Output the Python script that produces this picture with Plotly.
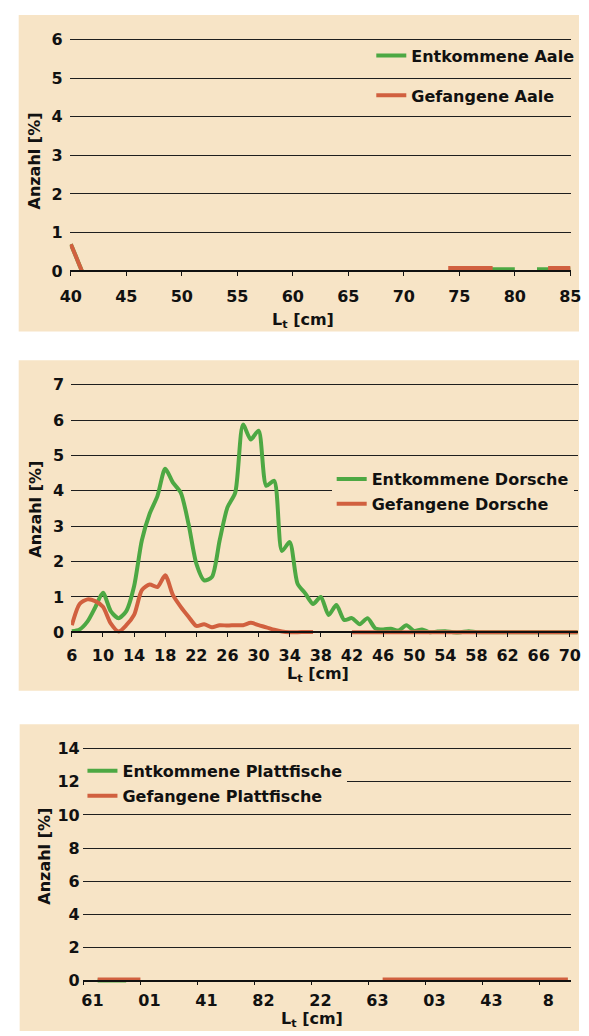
import plotly.graph_objects as go

# ---------------- data ----------------
aale_x = list(range(40, 86))
aale_entkommen = [0.7, 0.0] + [None] * 34 + [0.05] * 5 + [None] + [0.05] * 4
aale_gefangen = [0.7, 0.0] + [None] * 32 + [0.08] * 5 + [None] * 4 + [0.08] * 3
aale_ticks = [40, 45, 50, 55, 60, 65, 70, 75, 80, 85]

dorsch_x = list(range(6, 72))
dorsch_entkommen = [0.03, 0.08, 0.3, 0.7, 1.12, 0.6, 0.4, 0.6, 1.3, 2.6,
                    3.35, 3.85, 4.62, 4.23, 3.95, 3.06, 1.94, 1.47, 1.56, 2.6,
                    3.53, 3.95, 5.87, 5.45, 5.7, 4.14, 4.28, 2.3, 2.55, 1.38,
                    1.1, 0.8, 1.0, 0.49, 0.77, 0.35, 0.4, 0.23, 0.4, 0.11,
                    0.08, 0.1, 0.05, 0.2, 0.04, 0.08, 0.0, 0.02, 0.03, 0.0,
                    0.0, 0.03] + [0.0] * 14
dorsch_gefangen = [0.2, 0.8, 0.93, 0.88, 0.72, 0.25, 0.02, 0.2, 0.49, 1.19,
                   1.35, 1.28, 1.61, 1.05, 0.72, 0.44, 0.18, 0.23, 0.14, 0.2,
                   0.19, 0.2, 0.2, 0.27, 0.2, 0.14, 0.07, 0.02, 0.0, 0.0,
                   0.01, 0.01] + [None] * 4 + [0.0] * 30
dorsch_ticks = list(range(6, 71, 4))

platt_x = list(range(0, 35))
platt_entkommen = [None, 0.0, 0.0, 0.0] + [None] * 31
platt_gefangen = [None, 0.07, 0.07, 0.07, 0.07] + [None] * 16 + [0.07] * 14
platt_tick_pos = [0, 4, 8, 12, 16, 20, 24, 28, 32]
platt_tick_text = ["61", "01", "41", "82", "22", "63", "03", "43", "8"]

# ---------------- style ----------------
W, H = 589, 1036
GREEN = "#4DA843"
RED = "#D1603F"
BEIGE = "#F7E4C6"
GRID = "#1E1E1E"
FONT = "DejaVu Sans"
FS = 16


def fx(p):
    return p / W


def fy(p):
    return 1 - p / H


def pix(v0, p0, v1, p1, v):
    return p0 + (v - v0) * (p1 - p0) / (v1 - v0)


panels = [
    dict(xm=(40, 63, 85, 580), xr=[39.9, 85.1], ym=(0, 268, 6, 34), yr=[-0.12, 6.1]),
    dict(xm=(6, 64, 70, 579.5), xr=[5.9, 71.1], ym=(0, 633, 7, 382.7), yr=[-0.12, 7.1]),
    dict(xm=(0, 76, 32, 548), xr=[-0.05, 34.2], ym=(0, 985, 14, 750.7), yr=[-0.25, 14.2]),
]

fig = go.Figure()

series = [
    (aale_x, aale_entkommen, "Entkommene Aale", GREEN, 1, "legend"),
    (aale_x, aale_gefangen, "Gefangene Aale", RED, 1, "legend"),
    (dorsch_x, dorsch_entkommen, "Entkommene Dorsche", GREEN, 2, "legend2"),
    (dorsch_x, dorsch_gefangen, "Gefangene Dorsche", RED, 2, "legend2"),
    (platt_x, platt_entkommen, "Entkommene Plattfische", GREEN, 3, "legend3"),
    (platt_x, platt_gefangen, "Gefangene Plattfische", RED, 3, "legend3"),
]
for i, (xs, ys, name, col, k, leg) in enumerate(series):
    sfx = "" if k == 1 else str(k)
    fig.add_trace(go.Scatter(
        x=xs, y=ys, name=name, mode="lines",
        line=dict(color=col, width=4, shape="spline", smoothing=0.7),
        xaxis="x" + sfx, yaxis="y" + sfx, legend=leg, legendgroup="g%d" % i,
        hoverinfo="skip",
    ))

tick_font = dict(family=FONT, size=FS, color="#111", weight="bold")
standoffs_x = [7, 5, 2]
standoffs_y = [6, 6, 2]
yticks = [list(range(0, 7)), list(range(0, 8)), list(range(0, 15, 2))]
xticks = [(aale_ticks, [str(t) for t in aale_ticks]),
          (dorsch_ticks, [str(t) for t in dorsch_ticks]),
          (platt_tick_pos, platt_tick_text)]

layout = {}
for k, p in enumerate(panels):
    sfx = "" if k == 0 else str(k + 1)
    xa = pix(*p["xm"], p["xr"][0]), pix(*p["xm"], p["xr"][1])
    ya = pix(*p["ym"], p["yr"][0]), pix(*p["ym"], p["yr"][1])
    zero = pix(*p["ym"], 0)
    layout["xaxis" + sfx] = dict(
        domain=[fx(xa[0]), min(1.0, fx(xa[1]))], range=p["xr"], anchor="free",
        position=fy(zero), showline=True, linecolor="#111", linewidth=1.5,
        ticks="outside", ticklen=4, tickwidth=1.2, tickcolor="#111",
        tickvals=xticks[k][0], ticktext=xticks[k][1], tickfont=tick_font,
        ticklabelstandoff=standoffs_x[k], ticklabeloverflow="allow",
        showgrid=False, zeroline=False, fixedrange=True,
    )
    if k == 2:
        layout["xaxis" + sfx]["ticklabelshift"] = 9
    layout["yaxis" + sfx] = dict(
        domain=[fy(ya[0]), fy(ya[1])], range=p["yr"], anchor="x" + sfx,
        tickvals=yticks[k], tickfont=tick_font, showgrid=True,
        gridcolor=GRID, gridwidth=1.3, zeroline=False, showline=False,
        ticks="", ticklabelstandoff=standoffs_y[k], ticklabeloverflow="allow",
        fixedrange=True,
    )

leg_font = dict(family=FONT, size=FS, color="#111", weight="bold")
layout["legend"] = dict(x=fx(374), y=fy(33), xanchor="left", yanchor="top",
                        bgcolor="rgba(0,0,0,0)", font=leg_font, tracegroupgap=16,
                        itemwidth=30)
layout["legend2"] = dict(x=fx(333), y=fy(461), xanchor="left", yanchor="top",
                         bgcolor=BEIGE, font=leg_font, tracegroupgap=1,
                         itemwidth=30)
layout["legend3"] = dict(x=fx(75), y=fy(756), xanchor="left", yanchor="top",
                         bgcolor=BEIGE, font=leg_font, tracegroupgap=1,
                         itemwidth=30)

shapes = []
for (x0, y0, x1, y1) in [(9, 9, 589, 329), (9, 358, 589, 692), (10, 726, 589, 1036)]:
    shapes.append(dict(type="rect", xref="paper", yref="paper",
                       x0=fx(x0), x1=fx(x1), y0=fy(y1), y1=fy(y0),
                       fillcolor=BEIGE, line=dict(width=0), layer="below"))

title_font = dict(family=FONT, size=FS, color="#111", weight="bold")
annotations = []
for (cx, cy) in [(25, 157), (27, 509), (36, 859)]:
    annotations.append(dict(text="Anzahl [%]", x=fx(cx), y=fy(cy), xref="paper",
                            yref="paper", showarrow=False, textangle=-90,
                            font=title_font, xanchor="center", yanchor="middle"))
for (cx, cy) in [(303, 318), (319, 676), (313, 1024)]:
    annotations.append(dict(text="L<sub>t</sub> [cm]", x=fx(cx), y=fy(cy),
                            xref="paper", yref="paper", showarrow=False,
                            font=title_font, xanchor="center", yanchor="middle"))

fig.update_layout(
    width=W, height=H, margin=dict(l=0, r=0, t=0, b=0),
    paper_bgcolor="white", plot_bgcolor="rgba(0,0,0,0)",
    font=dict(family=FONT, size=FS, color="#111"),
    shapes=shapes, annotations=annotations, showlegend=True,
    **layout,
)

fig.write_html(
    "out.html",
    config={"displayModeBar": False},
    post_script="document.body.style.margin='0';document.body.style.overflow='hidden';",
)
